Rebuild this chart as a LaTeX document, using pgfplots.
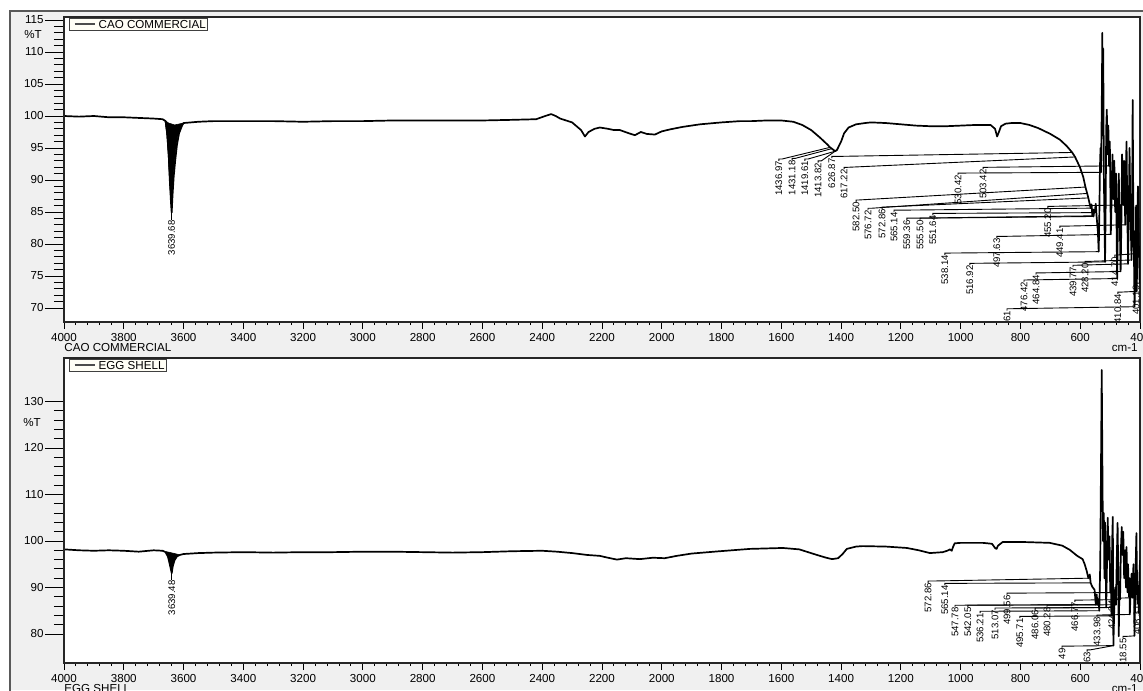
\documentclass[border=0pt]{standalone}
\usepackage{fontspec}
\setmainfont{Liberation Sans}
\usepackage{pgfplots}
\usepackage{pgfplotstable}
\pgfplotsset{compat=1.18}

\newcommand{\lblfont}{\fontsize{4.8}{5}\selectfont}
\newcommand{\tkfont}{\fontsize{5.8}{6}\selectfont}

\newcommand{\pk}[5]{%
 \draw[black, line width=0.45pt] (axis cs:#1,#2) -- ++(0pt,0.9pt) -- ++(1.6pt,0pt) -- (axis cs:#3,#4);
 \node[rotate=90, anchor=east, inner sep=0pt, font=\lblfont] at (axis cs:#1,#2) {#5};}

\pgfplotstableread{
wn T
4000 100.0
3950 99.9
3900 100.0
3850 99.8
3800 99.8
3750 99.7
3700 99.6
3670 99.5
3660 99.2
3655 97.5
3650 94.5
3646 90.0
3642 86.5
3639.68 84.9
3637 87.5
3633 90.5
3628 93.0
3622 95.5
3615 97.3
3605 98.5
3600 98.9
3550 99.1
3500 99.2
3400 99.2
3300 99.2
3200 99.1
3100 99.2
3000 99.2
2900 99.3
2800 99.3
2700 99.3
2600 99.3
2500 99.4
2420 99.5
2390 100.0
2370 100.3
2355 100.0
2340 99.6
2300 99.0
2270 97.8
2257 96.8
2245 97.5
2225 98.0
2207 98.2
2180 98.0
2160 97.8
2140 97.8
2110 97.3
2090 97.0
2070 97.5
2050 97.2
2023 97.1
2000 97.6
1973 97.9
1930 98.3
1872 98.7
1800 99.0
1738 99.2
1700 99.2
1650 99.3
1600 99.3
1560 99.1
1530 98.6
1500 97.8
1470 96.6
1445 95.5
1436.97 95.1
1431.18 94.9
1419.61 94.5
1413.82 94.7
1400 96.0
1390 97.3
1375 98.2
1350 98.7
1320 98.9
1300 99.0
1250 98.9
1200 98.7
1150 98.5
1100 98.4
1050 98.4
1000 98.5
950 98.6
900 98.6
885 98.0
878 96.8
872 97.5
865 98.4
850 98.8
830 98.9
800 98.9
770 98.6
740 98.1
700 97.2
668 96.3
645 95.3
626.87 94.3
617.22 93.6
601 92.0
590 90.5
582.50 88.9
576.72 87.9
572.86 87.2
570 86.6
565.14 85.6
562 86.2
559.36 84.4
557 85.4
555.50 84.3
553 85.2
551.64 84.9
548 86.3
545 84.2
541 82.0
538.14 78.8
536 84.5
534 92.0
532 95.0
530.42 91.2
528 101
526 113
524.5 97
523 110.5
521 91
519 84
516.92 77.2
515 85
513 98
511 101
509 94
506 98.5
503.42 92.2
501 96
499 88
497.63 81.5
495 87
492 94
489 87
486 93
483 85
480 91
478 81
476.42 74.6
474 83
471 91
468 84
466 79
464.84 75.7
462 84
460 94
458 90
455.20 86.1
453 93
451 88
449.41 83.0
447 92
445 96
443 87
441 80
439.77 76.9
437 87
435 95
433 88
431 83
429.5 80
428.20 77.5
426 89
424.5 102.5
423 90
421 81
418 70.2
416 80
414.70 78.5
413 86
411.5 77
410.84 72.6
409 80
407 89
405 83
403 78
401.19 74.1
400 77
}\topdata

\pgfplotstableread{
wn T
4000 98.2
3950 98.0
3900 97.9
3850 98.0
3800 97.9
3750 97.7
3700 98.0
3670 97.9
3660 97.6
3652 96.6
3646 95.0
3642 93.8
3639.48 93.1
3636 94.6
3630 95.9
3622 96.7
3612 97.0
3600 97.2
3550 97.4
3500 97.5
3400 97.6
3300 97.5
3200 97.6
3100 97.6
3000 97.7
2900 97.7
2800 97.6
2700 97.5
2600 97.6
2500 97.8
2400 97.9
2350 97.7
2300 97.4
2250 97.0
2207 96.8
2180 96.4
2150 96.0
2120 96.3
2073 96.1
2030 96.4
1990 96.3
1950 96.8
1900 97.3
1806 97.8
1705 98.3
1595 98.5
1540 98.2
1481 97.0
1450 96.4
1430 96.1
1410 96.3
1395 97.2
1381 98.3
1350 98.8
1328 98.9
1250 98.8
1180 98.5
1140 98.0
1103 97.4
1060 97.6
1045 97.9
1036 98.2
1030 97.9
1025 98.8
1020 99.5
1000 99.6
926 99.6
895 99.4
885 98.5
880 98.3
875 99.0
859 99.8
800 99.8
702 99.6
660 99.0
635 98.1
610 96.8
592 96.1
585 95.0
578 93.5
572.86 92.0
568 92.8
565.14 91.0
560 90.2
552 89.5
547.78 86.3
545 88.5
542.05 86.3
539 87.5
536.21 85.0
533 95
530 120
528 136.8
526 118
524 100
521 106
519 92
517 104
515 95
513.07 85.7
511 93
508 105
505 96
502 101
499.56 88.9
497.5 95
495.71 83.9
493 100
491 105.2
489 77.5
486.06 85.7
483 90
480.28 86.3
478 95
475 103.9
473 95
471 79.5
469 90
466.77 87.4
464 98
461 103
459 97
456 102
453 92
450 98
447 90
445 98.7
442 89
440 95
437 88
435 92
433.98 84.2
431 90
428 93
426 88
424.34 87.8
422 95
420 90
418.55 79.6
416 88
414 96
412 101.7
410 92
408.31 86.7
406 90
404 84.5
402 92
400 95.9
}\botdata

\pgfplotsset{
 /pgf/number format/assume math mode=true,
 /pgf/number format/set thousands separator={},
 spec/.style={
  scale only axis, width=538pt, height=152.5pt, anchor=south west,
  x dir=reverse, xmin=400, xmax=4000, xtick={400,600,...,4000}, minor x tick num=4,
  xtick pos=left, ytick=\empty,
  tick align=outside, major tick length=3.5pt, minor tick length=1.5pt,
  tick style={black, line width=0.45pt},
  axis line style={black!85, line width=0.6pt},
  axis background/.style={fill=white},
  xticklabel style={font=\tkfont, inner sep=0pt, yshift=-1.8pt},
  legend style={at={(rel axis cs:0.0046,0.996)}, anchor=north west, draw=black!75, fill=yellow!4,
    font=\tkfont, inner sep=0.3pt, outer sep=0pt, nodes={inner sep=0.6pt, text depth=0pt}},
  legend image code/.code={\path[draw=none] (0pt,0pt) -- (14pt,0pt); \draw[black!70, line width=0.6pt] (2.5pt,0pt) -- (12.5pt,0pt);},
 },
 yov/.style={
  scale only axis, width=538pt, height=152.5pt, anchor=south west,
  xmin=400, xmax=4000, hide x axis, axis y line*=left, clip=false,
  tick align=outside, major tick length=9.5pt, minor tick length=5pt,
  tick style={black, line width=0.45pt},
  axis line style={black!85, line width=0.6pt},
  yticklabel style={font=\tkfont, inner sep=0.5pt},
 },
}

\begin{document}
\begin{tikzpicture}
\useasboundingbox (0,0) rectangle (571.5pt,-345pt);
\fill[white] (0,0) rectangle (571.5pt,-345pt);
\fill[black!6] (5pt,-5.5pt) rectangle (571.5pt,-345pt);
\draw[black!65, line width=1.3pt] (5pt,-350pt) -- (5pt,-5.5pt) -- (575pt,-5.5pt);

% ---------- top panel ----------
\begin{axis}[spec, at={(32pt,-161pt)}, ymin=67.81, ymax=115.47]
\addplot[black, line width=0.85pt, line join=round] table[x=wn, y=T] {\topdata};
\addlegendentry{CAO COMMERCIAL}
\addplot[fill=black, draw=black, line width=0.3pt, forget plot] coordinates {
 (3662,99.3) (3656,97.0) (3651,93.5) (3647,90.0) (3643,87.0) (3639.68,84.9)
 (3637,88.5) (3633,91.5) (3627,94.5) (3620,96.8) (3610,98.2) (3600,98.9) (3630,98.6) (3650,98.9)} -- cycle;
\draw[black, line width=0.45pt] (axis cs:3639.68,83.75) -- (axis cs:3639.68,84.9);
\node[rotate=90, anchor=east, inner sep=0pt, font=\lblfont] at (axis cs:3639.68,83.75) {3639.68};
\pk{1608}{93.0}{1436.97}{95.1}{1436.97}
\pk{1564}{93.1}{1431.18}{94.9}{1431.18}
\pk{1521}{93.0}{1419.61}{94.5}{1419.61}
\pk{1477}{92.7}{1413.82}{94.7}{1413.82}
\pk{1431}{93.4}{626.87}{94.3}{626.87}
\pk{1390}{91.7}{617.22}{93.6}{617.22}
\pk{1350}{86.6}{582.50}{88.9}{582.50}
\pk{1310}{85.3}{576.72}{87.9}{576.72}
\pk{1263}{85.5}{572.86}{87.2}{572.86}
\pk{1223}{85.0}{565.14}{85.6}{565.14}
\pk{1180}{83.75}{559.36}{84.4}{559.36}
\pk{1136}{83.75}{555.50}{84.3}{555.50}
\pk{1093}{84.5}{551.64}{84.9}{551.64}
\pk{1053}{78.3}{538.14}{78.8}{538.14}
\pk{1009}{90.8}{530.42}{91.2}{530.42}
\pk{969}{76.7}{516.92}{77.2}{516.92}
\pk{925}{91.7}{503.42}{92.2}{503.42}
\pk{879}{80.9}{497.63}{81.5}{497.63}
\pk{845}{69.6}{418}{70.2}{61}
\pk{788}{74.1}{476.42}{74.6}{476.42}
\pk{748}{75.2}{464.84}{75.7}{464.84}
\pk{708}{85.6}{455.20}{86.1}{455.20}
\pk{668}{82.5}{449.41}{83.0}{449.41}
\pk{624}{76.4}{439.77}{76.9}{439.77}
\pk{584}{77.0}{428.20}{77.5}{428.20}
\pk{484}{78.0}{414.70}{78.5}{414.70}
\pk{474}{72.2}{410.84}{72.6}{410.84}
\pk{413}{73.6}{401.19}{74.1}{401.19}
\end{axis}
\begin{axis}[yov, at={(32pt,-161pt)}, ymin=67.81, ymax=115.47, ytick={70,75,...,115}, minor y tick num=4]
\addplot[draw=none] coordinates {(1000,100)};
\end{axis}

% ---------- bottom panel ----------
\begin{axis}[spec, at={(32pt,-331.5pt)}, ymin=73.76, ymax=139.35]
\addplot[black, line width=0.85pt, line join=round] table[x=wn, y=T] {\botdata};
\addlegendentry{EGG SHELL}
\addplot[fill=black, draw=black, line width=0.3pt, forget plot] coordinates {
 (3658,97.7) (3652,96.6) (3646,95.0) (3642,93.8) (3639.48,93.1) (3636,94.6)
 (3630,95.9) (3622,96.7) (3612,97.0) (3630,97.3) (3650,97.6)} -- cycle;
\draw[black, line width=0.45pt] (axis cs:3639.48,91.6) -- (axis cs:3639.48,93.1);
\node[rotate=90, anchor=east, inner sep=0pt, font=\lblfont] at (axis cs:3639.48,91.6) {3639.48};
\pk{1109}{91.0}{572.86}{92.0}{572.86}
\pk{1053}{90.5}{565.14}{91.0}{565.14}
\pk{1019}{85.8}{547.78}{86.3}{547.78}
\pk{976}{85.8}{542.05}{86.3}{542.05}
\pk{935}{84.5}{536.21}{85.0}{536.21}
\pk{885}{85.2}{513.07}{85.7}{513.07}
\pk{845}{88.4}{499.56}{88.9}{499.56}
\pk{802}{83.4}{495.71}{83.9}{495.71}
\pk{751}{85.2}{486.06}{85.7}{486.06}
\pk{711}{85.8}{480.28}{86.3}{480.28}
\pk{618}{86.9}{466.77}{87.4}{466.77}
\pk{544}{83.7}{433.98}{84.2}{433.98}
\pk{494}{87.3}{424.34}{87.8}{424.34}
\pk{457}{79.1}{418.55}{79.6}{418.55}
\pk{410}{86.2}{408.31}{86.7}{408.31}
\pk{661}{77.0}{489}{77.5}{49}
\pk{577}{76.2}{489}{77.5}{63}
\end{axis}
\begin{axis}[yov, at={(32pt,-331.5pt)}, ymin=73.76, ymax=139.35, ytick={80,90,...,130}, minor y tick num=4]
\addplot[draw=none] coordinates {(1000,100)};
\end{axis}

% ---------- free texts ----------
\node[font=\tkfont, inner sep=0pt] at (16.5pt,-17.5pt) {\%T};
\node[font=\tkfont, inner sep=0pt] at (16pt,-211.5pt) {\%T};
\node[font=\tkfont, inner sep=0pt, anchor=west] at (32pt,-174pt) {CAO COMMERCIAL};
\node[font=\tkfont, inner sep=0pt, anchor=east] at (569pt,-174pt) {cm-1};
\node[font=\tkfont, inner sep=0pt, anchor=west] at (32pt,-344pt) {EGG SHELL};
\node[font=\tkfont, inner sep=0pt, anchor=east] at (569pt,-344.5pt) {cm-1};
\end{tikzpicture}
\end{document}
